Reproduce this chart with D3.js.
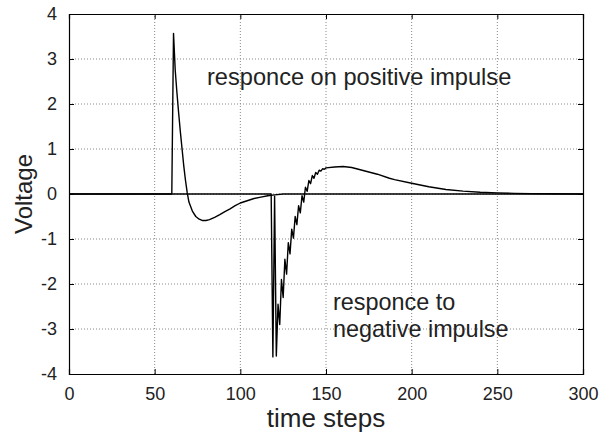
<!DOCTYPE html>
<html>
<head>
<meta charset="utf-8">
<script src="https://cdn.jsdelivr.net/npm/d3@7"></script>
<style>
  body { margin: 0; background: #fff; }
  text { font-family: "Liberation Sans", Arial, Helvetica, sans-serif; fill: #222; }
</style>
</head>
<body>
<div id="chart"></div>
<script>
// response to the positive impulse
const posT = [0, 60, 61, 62, 63, 64, 65, 66, 67, 68, 69, 70, 72, 74, 76, 78, 80, 82, 85, 88, 91, 94, 97, 100, 104, 108, 112, 116, 120, 125, 300];
const posV = [0, 0, 3.57, 2.75, 2.25, 1.8, 1.38, 1.0, 0.62, 0.3, 0.03, -0.18, -0.38, -0.5, -0.56, -0.59, -0.59, -0.57, -0.52, -0.46, -0.39, -0.33, -0.26, -0.2, -0.15, -0.1, -0.07, -0.04, -0.02, 0, 0];

// response to the negative impulse
const negT = [0, 118, 119, 120, 121, 122, 123, 124, 125, 126, 127, 128, 129, 130, 131, 132, 133, 134, 135, 136, 137, 138, 139, 140, 141, 142, 143, 144, 145, 146, 147, 148, 149, 150,
  155, 160, 165, 170, 180, 187, 190, 200, 210, 220, 230, 240, 250, 260, 270, 280, 300];
const negV = [0, 0, -3.62, -0.05, -3.6, -2.45, -2.9, -1.9, -2.3, -1.45, -1.78, -1.08, -1.33, -0.78, -0.98, -0.5, -0.68, -0.26, -0.42, -0.04, -0.18, 0.15, 0.06, 0.3, 0.23, 0.41, 0.35, 0.48, 0.44, 0.53, 0.51, 0.56, 0.55, 0.58,
  0.6, 0.61, 0.59, 0.54, 0.44, 0.35, 0.32, 0.24, 0.16, 0.1, 0.065, 0.04, 0.025, 0.015, 0.008, 0.004, 0];

const xTicks = [0, 50, 100, 150, 200, 250, 300];
const yTicks = [-4, -3, -2, -1, 0, 1, 2, 3, 4];

const width = 603;
const height = 442;
const margin = { top: 14, right: 20, bottom: 68, left: 69 };

const svg = d3.select('#chart').append('svg')
  .attr('width', width)
  .attr('height', height);

svg.append('rect').attr('width', width).attr('height', height).attr('fill', '#fff');

const x = d3.scaleLinear().domain([0, 300]).range([margin.left, width - margin.right]);
const y = d3.scaleLinear().domain([-4, 4]).range([height - margin.bottom, margin.top]);

// dotted grid
svg.append('g')
  .selectAll('line')
  .data(xTicks.slice(1, -1))
  .enter().append('line')
  .attr('x1', d => x(d)).attr('x2', d => x(d))
  .attr('y1', y(-4)).attr('y2', y(4))
  .attr('stroke', '#888').attr('stroke-width', 1).attr('stroke-dasharray', '1,2');

svg.append('g')
  .selectAll('line')
  .data(yTicks.slice(1, -1))
  .enter().append('line')
  .attr('y1', d => y(d)).attr('y2', d => y(d))
  .attr('x1', x(0)).attr('x2', x(300))
  .attr('stroke', '#888').attr('stroke-width', 1).attr('stroke-dasharray', '1,2');

// axes with inward ticks, plain hyphen for negatives
const plain = d => String(d);
const axes = [
  { axis: d3.axisBottom(x).tickValues(xTicks).tickSize(-5).tickFormat(plain), at: `translate(0,${y(-4)})` },
  { axis: d3.axisTop(x).tickValues(xTicks).tickSize(-5).tickFormat(''), at: `translate(0,${y(4)})` },
  { axis: d3.axisLeft(y).tickValues(yTicks).tickSize(-5).tickFormat(plain), at: `translate(${x(0)},0)` },
  { axis: d3.axisRight(y).tickValues(yTicks).tickSize(-5).tickFormat(''), at: `translate(${x(300)},0)` }
];
axes.forEach(a => {
  const g = svg.append('g').attr('transform', a.at).call(a.axis);
  g.select('.domain').attr('stroke', '#000').attr('stroke-width', 1.2);
  g.selectAll('.tick line').attr('stroke', '#000');
  g.selectAll('.tick text')
    .attr('font-size', 18)
    .attr('font-family', '"Liberation Sans", Arial, sans-serif')
    .attr('fill', '#222');
});
svg.selectAll('.tick text').filter(function () { return this.parentNode.parentNode.getAttribute('transform').startsWith('translate(0,' + y(-4)); })
  .attr('y', 13).attr('dy', '0.71em');
svg.selectAll('g').filter(function () { return this.getAttribute('transform') === `translate(${x(0)},0)`; })
  .selectAll('.tick text').attr('x', -12);

// curves
const line = d3.line().x(d => x(d[0])).y(d => y(d[1]));
const posData = posT.map((t, i) => [t, posV[i]]);
const negData = negT.map((t, i) => [t, negV[i]]);

[posData, negData].forEach(data => {
  svg.append('path')
    .datum(data)
    .attr('d', line)
    .attr('fill', 'none')
    .attr('stroke', '#000')
    .attr('stroke-width', 1.4)
    .attr('stroke-linejoin', 'round');
});

// labels
svg.append('text')
  .attr('x', x(150)).attr('y', 427)
  .attr('text-anchor', 'middle')
  .attr('font-size', 26)
  .text('time steps');

svg.append('text')
  .attr('transform', `translate(32,${y(0)}) rotate(-90)`)
  .attr('text-anchor', 'middle')
  .attr('font-size', 24)
  .text('Voltage');

svg.append('text')
  .attr('x', 207).attr('y', 85)
  .attr('font-size', 23.6)
  .text('responce on positive impulse');

svg.append('text')
  .attr('x', 333).attr('y', 310)
  .attr('font-size', 23.4)
  .text('responce to');

svg.append('text')
  .attr('x', 333).attr('y', 337)
  .attr('font-size', 23.4)
  .text('negative impulse');
</script>
</body>
</html>
